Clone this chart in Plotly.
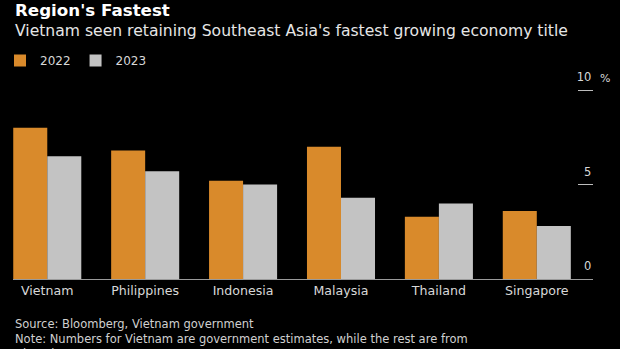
import plotly.graph_objects as go

countries = ["Vietnam", "Philippines", "Indonesia", "Malaysia", "Thailand", "Singapore"]
growth_2022 = [8.0, 6.8, 5.2, 7.0, 3.3, 3.6]
growth_2023 = [6.5, 5.7, 5.0, 4.3, 4.0, 2.8]
y_tickvals = [0, 5, 10]
y_ticktext = ["0", "5", "10"]

ORANGE = "#D98A2B"
GRAY = "#C3C3C3"
FONT = "DejaVu Sans"

W, H = 620, 349
ML, MR, MT, MB = 13, 27, 64, 70
PW = W - ML - MR
PH = H - MT - MB


def px_x(px):
    return (px - ML) / PW


def px_y(py):
    return (H - MB - py) / PH


fig = go.Figure()
fig.add_trace(go.Bar(name="2022", x=countries, y=growth_2022, marker=dict(color=ORANGE, line=dict(width=0))))
fig.add_trace(go.Bar(name="2023", x=countries, y=growth_2023, marker=dict(color=GRAY, line=dict(width=0))))

fig.update_layout(
    width=W, height=H,
    margin=dict(l=ML, r=MR, t=MT, b=MB, pad=0, autoexpand=False),
    paper_bgcolor="#000000", plot_bgcolor="#000000",
    barmode="group", bargap=0.305, bargroupgap=0,
    font=dict(family=FONT, color="#D8D8D8", size=12),
    showlegend=True,
    legend=dict(
        orientation="h", xref="container", yref="container",
        x=0.0, xanchor="left", y=1 - 60.5 / H, yanchor="middle",
        font=dict(family=FONT, size=12, color="#D8D8D8"),
        bgcolor="rgba(0,0,0,0)", borderwidth=0,
        itemwidth=30, traceorder="normal",
    ),
    xaxis=dict(
        type="category", range=[-0.35, 5.574],
        showgrid=False, zeroline=False,
        showline=True, linecolor="#9A9A9A", linewidth=1,
        ticks="", tickfont=dict(family=FONT, size=12.6, color="#D8D8D8"),
        fixedrange=True,
    ),
    yaxis=dict(
        side="right", range=[0, PH / 18.9],
        tickvals=y_tickvals, ticktext=y_ticktext,
        showgrid=False, zeroline=False, showline=False,
        ticks="inside", ticklen=15, tickcolor="#BDBDBD", tickwidth=1,
        ticklabelposition="inside", ticklabelstandoff=-14, ticklabelshift=-13,
        tickfont=dict(family=FONT, size=11.5, color="#D8D8D8"),
        fixedrange=True,
    ),
)

fig.add_annotation(
    text="<b>Region's Fastest</b>", xref="paper", yref="paper",
    x=px_x(13), y=px_y(10.2), xanchor="left", yanchor="middle", showarrow=False,
    font=dict(family=FONT, size=16.7, color="#FFFFFF"),
)
fig.add_annotation(
    text="Vietnam seen retaining Southeast Asia's fastest growing economy title",
    xref="paper", yref="paper",
    x=px_x(13), y=px_y(30.6), xanchor="left", yanchor="middle", showarrow=False,
    font=dict(family=FONT, size=15.6, color="#E6E6E6"),
)
fig.add_annotation(
    text="%", xref="paper", yref="y", x=1, y=10, xanchor="left", yanchor="bottom",
    xshift=5, yshift=3, showarrow=False,
    font=dict(family=FONT, size=11, color="#D8D8D8"),
)
fig.add_annotation(
    text="Source: Bloomberg, Vietnam government<br>Note: Numbers for Vietnam are government estimates, while the rest are from<br>Bloomberg.",
    xref="paper", yref="paper", x=px_x(13), y=px_y(315), xanchor="left", yanchor="top",
    align="left", showarrow=False,
    font=dict(family=FONT, size=11.5, color="#D0D0D0"),
)

fig.write_html("out.html")
